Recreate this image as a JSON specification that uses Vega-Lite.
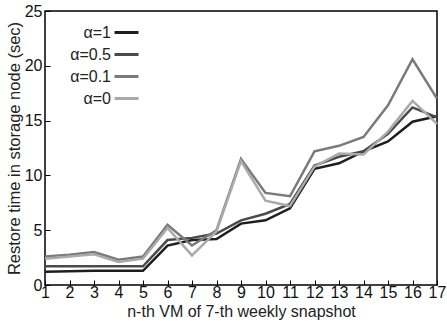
{
  "$schema": "https://vega.github.io/schema/vega-lite/v6.json",
  "autosize": "none",
  "padding": {"left": 45, "top": 11, "right": 10, "bottom": 36},
  "width": 392,
  "height": 274,
  "config": {
    "view": {"stroke": "#000", "strokeWidth": 1.5},
    "font": "Liberation Sans",
    "axis": {"grid": false, "domain": false, "tickColor": "#000", "tickSize": -5, "labelColor": "#111", "titleColor": "#222", "labelFontSize": 16, "titleFontSize": 16, "titleFontWeight": "normal", "labelFont": "Liberation Sans", "titleFont": "Liberation Sans"}
  },
  "data": {"values": [
    {"n":1,"s":"α=1","t":1.2},{"n":2,"s":"α=1","t":1.25},{"n":3,"s":"α=1","t":1.3},{"n":4,"s":"α=1","t":1.3},{"n":5,"s":"α=1","t":1.3},{"n":6,"s":"α=1","t":3.6},{"n":7,"s":"α=1","t":4.1},{"n":8,"s":"α=1","t":4.2},{"n":9,"s":"α=1","t":5.6},{"n":10,"s":"α=1","t":5.9},{"n":11,"s":"α=1","t":7.0},{"n":12,"s":"α=1","t":10.6},{"n":13,"s":"α=1","t":11.1},{"n":14,"s":"α=1","t":12.2},{"n":15,"s":"α=1","t":13.1},{"n":16,"s":"α=1","t":14.9},{"n":17,"s":"α=1","t":15.4},
    {"n":1,"s":"α=0.5","t":1.7},{"n":2,"s":"α=0.5","t":1.7},{"n":3,"s":"α=0.5","t":1.7},{"n":4,"s":"α=0.5","t":1.7},{"n":5,"s":"α=0.5","t":1.7},{"n":6,"s":"α=0.5","t":4.1},{"n":7,"s":"α=0.5","t":4.3},{"n":8,"s":"α=0.5","t":4.7},{"n":9,"s":"α=0.5","t":5.9},{"n":10,"s":"α=0.5","t":6.5},{"n":11,"s":"α=0.5","t":7.4},{"n":12,"s":"α=0.5","t":10.9},{"n":13,"s":"α=0.5","t":11.7},{"n":14,"s":"α=0.5","t":12.2},{"n":15,"s":"α=0.5","t":13.8},{"n":16,"s":"α=0.5","t":16.2},{"n":17,"s":"α=0.5","t":15.3},
    {"n":1,"s":"α=0.1","t":2.6},{"n":2,"s":"α=0.1","t":2.75},{"n":3,"s":"α=0.1","t":3.0},{"n":4,"s":"α=0.1","t":2.3},{"n":5,"s":"α=0.1","t":2.6},{"n":6,"s":"α=0.1","t":5.5},{"n":7,"s":"α=0.1","t":3.6},{"n":8,"s":"α=0.1","t":5.0},{"n":9,"s":"α=0.1","t":11.5},{"n":10,"s":"α=0.1","t":8.4},{"n":11,"s":"α=0.1","t":8.1},{"n":12,"s":"α=0.1","t":12.2},{"n":13,"s":"α=0.1","t":12.7},{"n":14,"s":"α=0.1","t":13.5},{"n":15,"s":"α=0.1","t":16.4},{"n":16,"s":"α=0.1","t":20.6},{"n":17,"s":"α=0.1","t":17.0},
    {"n":1,"s":"α=0","t":2.4},{"n":2,"s":"α=0","t":2.6},{"n":3,"s":"α=0","t":2.8},{"n":4,"s":"α=0","t":2.1},{"n":5,"s":"α=0","t":2.4},{"n":6,"s":"α=0","t":5.2},{"n":7,"s":"α=0","t":2.7},{"n":8,"s":"α=0","t":4.9},{"n":9,"s":"α=0","t":11.3},{"n":10,"s":"α=0","t":7.7},{"n":11,"s":"α=0","t":7.2},{"n":12,"s":"α=0","t":10.8},{"n":13,"s":"α=0","t":12.0},{"n":14,"s":"α=0","t":11.9},{"n":15,"s":"α=0","t":14.0},{"n":16,"s":"α=0","t":16.8},{"n":17,"s":"α=0","t":14.7}
  ]},
  "mark": {"type": "line", "strokeWidth": 2.5},
  "encoding": {
    "x": {"field": "n", "type": "quantitative", "scale": {"domain": [1, 17], "nice": false}, "axis": {"values": [1,2,3,4,5,6,7,8,9,10,11,12,13,14,15,16,17], "title": "n-th VM of 7-th weekly snapshot", "labelPadding": 4, "titlePadding": 3, "labelFlush": false, "labelOverlap": false}},
    "y": {"field": "t", "type": "quantitative", "scale": {"domain": [0, 25], "nice": false}, "axis": {"values": [0,5,10,15,20,25], "title": "Restore time in storage node (sec)", "labelPadding": 8, "titlePadding": 2, "titleFontSize": 16.5, "labelFlush": false}},
    "color": {"field": "s", "type": "nominal", "scale": {"domain": ["α=1","α=0.5","α=0.1","α=0"], "range": ["#1e1e1e","#4a4a4a","#7a7a7a","#aaaaaa"]},
      "legend": {"title": null, "orient": "none", "legendX": 68, "legendY": 8, "symbolType": "stroke", "symbolSize": 576, "symbolStrokeWidth": 3, "labelAlign": "right", "labelOffset": -29, "labelFontSize": 16, "labelColor": "#222", "rowPadding": -4, "labelFont": "Liberation Sans"}}
  }
}
